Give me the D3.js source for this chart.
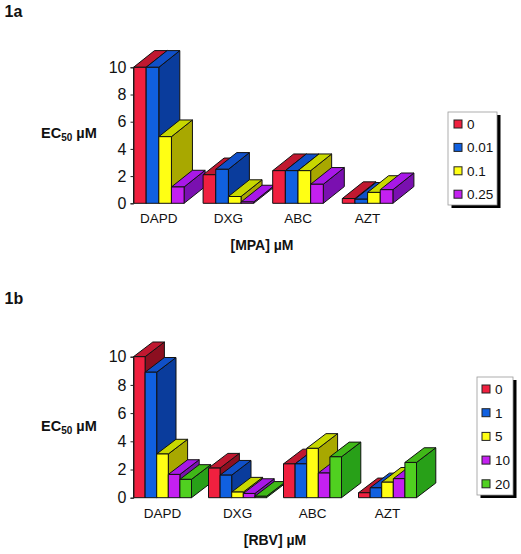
<!DOCTYPE html>
<html><head><meta charset="utf-8">
<script src="https://cdn.jsdelivr.net/npm/d3@7/dist/d3.min.js"></script>
<style>html,body{margin:0;padding:0;background:#fff}svg{display:block}text{font-family:"Liberation Sans",Arial,sans-serif;fill:#111}</style>
</head><body><svg id="c" width="521" height="554"></svg>
<script>
const categories = ["DAPD","DXG","ABC","AZT"];
const seriesA = ["0","0.01","0.1","0.25"];
const seriesB = ["0","1","5","10","20"];
const valuesA = [[10,10,4.9,1.2],[2.1,2.5,0.5,0.1],[2.4,2.4,2.4,1.4],[0.35,0.3,0.8,1.0]];
const valuesB = [[10,8.9,3.1,1.65,1.3],[2.1,1.6,0.4,0.3,0.1],[2.4,2.4,3.5,1.75,2.9],[0.35,0.7,1.1,1.35,2.5]];
const yTicks = [0,2,4,6,8,10];
const fronts = ["#f0203f","#1060e0","#ffff14","#c420f0","#50d020"];
const tops   = ["#c01830","#1050c8","#c8d800","#a818e8","#40b818"];
const sides  = ["#8c0f20","#0a3c9c","#a8a800","#7a10b0","#28a018"];

const svg = d3.select("#c");

function panel(o){
  const g = svg.append("g");
  const y = d3.scaleLinear().domain([0,10]).range([o.y0,o.y10]);
  const gx = d3.scaleBand().domain(categories)
    .range([o.x0, o.x0+3*o.step+o.bw]).paddingInner(1-o.bw/o.step).paddingOuter(0);
  const bx = d3.scaleBand().domain(o.series).range([0,o.bw]);
  const w = bx.bandwidth();
  categories.forEach((c,ci)=>{
    const cg = g.append("g").attr("transform",`translate(${gx(c)},0)`);
    o.values[ci].forEach((v,si)=>{
      const x = bx(o.series[si]), t = y(v), b = y(0), dx=o.dx, dy=o.dy;
      const s = cg.append("g").attr("stroke","#111").attr("stroke-width",1).attr("stroke-linejoin","round");
      s.append("polygon").attr("points",[[x+w,t],[x+w+dx,t-dy],[x+w+dx,b-dy],[x+w,b]].join(" ")).attr("fill",sides[si]);
      s.append("polygon").attr("points",[[x,t],[x+dx,t-dy],[x+w+dx,t-dy],[x+w,t]].join(" ")).attr("fill",tops[si]);
      s.append("rect").attr("x",x).attr("y",t).attr("width",w).attr("height",b-t).attr("fill",fronts[si]);
    });
  });
  const ya = g.append("g").attr("transform",`translate(${o.x0},0)`)
    .call(d3.axisLeft(y).tickValues(yTicks).tickSize(3).tickPadding(4));
  ya.selectAll("path,line").attr("stroke","#222");
  ya.selectAll("text").attr("font-size",16).attr("font-family",null);
  const xa = g.append("g").attr("transform",`translate(0,${o.catY})`)
    .call(d3.axisBottom(gx).tickSize(0).tickPadding(0));
  xa.select("path").remove();
  xa.selectAll("text").attr("font-size",13.5).attr("font-family",null).attr("dy",0);

  g.append("text").attr("x",4.5).attr("y",o.panelY).attr("font-size",16).attr("font-weight","bold").text(o.panel);
  const e = g.append("text").attr("x",41).attr("y",o.ecY).attr("font-size",14.5).attr("font-weight","bold");
  e.append("tspan").text("EC");
  e.append("tspan").attr("font-size",10).attr("dy",3).text("50");
  e.append("tspan").attr("dy",-3).text(" µM");
  g.append("text").attr("x",o.labX).attr("y",o.labY).attr("text-anchor","middle").attr("font-size",14).attr("font-weight","bold").text(o.label);

  const L=o.leg;
  g.append("rect").attr("x",L.x+3.5).attr("y",L.y+3).attr("width",L.w).attr("height",L.h).attr("fill","#000");
  g.append("rect").attr("x",L.x).attr("y",L.y).attr("width",L.w).attr("height",L.h).attr("fill","#fff").attr("stroke","#999").attr("stroke-width",0.8);
  o.series.forEach((s,i)=>{
    const ly=L.y0+i*L.step;
    g.append("rect").attr("x",L.x+L.sw).attr("y",ly-4).attr("width",8).attr("height",8).attr("fill",fronts[i]).attr("stroke","#222");
    g.append("text").attr("x",L.x+L.tx).attr("y",ly+5).attr("font-size",13.5).text(s);
  });
}

panel({panel:"1a",panelY:17,label:"[MPA] µM",labX:262,labY:250,ecY:138,series:seriesA,values:valuesA,
  x0:133.5,step:69.6,bw:50.6,y0:203.3,y10:67.3,dx:21,dy:16.7,catY:223,
  leg:{x:448,y:112,w:49,h:93,y0:124,step:23.4,sw:6,tx:19}});
panel({panel:"1b",panelY:304,label:"[RBV] µM",labX:275,labY:545,ecY:431,series:seriesB,values:valuesB,
  x0:133.5,step:75,bw:58,y0:497.7,y10:356.7,dx:19.3,dy:14.7,catY:518,
  leg:{x:477,y:377,w:36,h:118,y0:389,step:23.7,sw:5,tx:18}});
</script></body></html>
